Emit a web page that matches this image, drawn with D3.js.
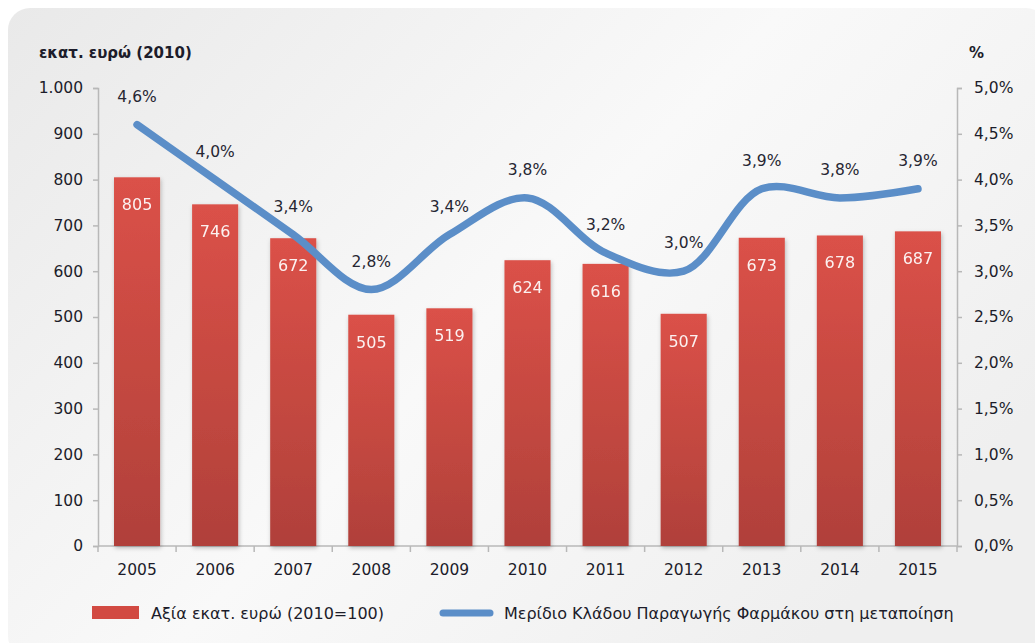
<!DOCTYPE html>
<html>
<head>
<meta charset="utf-8">
<script src="https://cdn.jsdelivr.net/npm/d3@7"></script>
<style>
  html, body { margin: 0; padding: 0; background: #ffffff; }
  svg { display: block; }
  text { font-family: "DejaVu Sans", sans-serif; }
</style>
</head>
<body>
<svg id="chart" width="1035" height="643"></svg>
<script>
const years = ["2005","2006","2007","2008","2009","2010","2011","2012","2013","2014","2015"];
const values = [805, 746, 672, 505, 519, 624, 616, 507, 673, 678, 687];
const shares = [4.6, 4.0, 3.4, 2.8, 3.4, 3.8, 3.2, 3.0, 3.9, 3.8, 3.9];
const leftTicks = [0, 100, 200, 300, 400, 500, 600, 700, 800, 900, 1000];
const rightTicks = [0, 0.5, 1.0, 1.5, 2.0, 2.5, 3.0, 3.5, 4.0, 4.5, 5.0];
const leftTitle = "εκατ. ευρώ (2010)";
const rightTitle = "%";
const barLegend = "Αξία εκατ. ευρώ (2010=100)";
const lineLegend = "Μερίδιο Κλάδου Παραγωγής Φαρμάκου στη μεταποίηση";

const svg = d3.select("#chart");
const defs = svg.append("defs");

const bg = defs.append("linearGradient").attr("id","bg").attr("x1","0").attr("y1","0").attr("x2","1").attr("y2","0.6");
bg.append("stop").attr("offset","0").attr("stop-color","#e9e9e9");
bg.append("stop").attr("offset","0.55").attr("stop-color","#f9f9f9");
bg.append("stop").attr("offset","1").attr("stop-color","#efefef");

const barGrad = defs.append("linearGradient").attr("id","barGrad").attr("x1","0").attr("y1","0").attr("x2","0").attr("y2","1");
barGrad.append("stop").attr("offset","0").attr("stop-color","#db5148");
barGrad.append("stop").attr("offset","1").attr("stop-color","#b0403a");

const shadow = defs.append("filter").attr("id","shadow").attr("x","-20%").attr("y","-5%").attr("width","140%").attr("height","115%");
shadow.append("feDropShadow").attr("dx",1).attr("dy",2).attr("stdDeviation",2).attr("flood-color","#000").attr("flood-opacity",0.25);

svg.append("rect").attr("x",8).attr("y",8).attr("width",1040).attr("height",650)
  .attr("rx",22).attr("fill","url(#bg)");

const pLeft = 98, pRight = 957, pTop = 88, pBottom = 546;

const x = d3.scaleBand().domain(years).range([pLeft, pRight]).paddingInner(0.41).paddingOuter(0.205);
const y = d3.scaleLinear().domain([0, 1000]).range([pBottom, pTop]);
const y2 = d3.scaleLinear().domain([0, 5]).range([pBottom, pTop]);

const fmtLeft = d => d === 1000 ? "1.000" : String(d);
const fmtRight = d => d.toFixed(1).replace(".", ",") + "%";

const axisColor = "#b8b8b8";
const gL = svg.append("g").attr("transform",`translate(${pLeft},0)`)
  .call(d3.axisLeft(y).tickValues(leftTicks).tickFormat(fmtLeft).tickSize(5).tickPadding(10));
const gR = svg.append("g").attr("transform",`translate(${pRight},0)`)
  .call(d3.axisRight(y2).tickValues(rightTicks).tickFormat(fmtRight).tickSize(5).tickPadding(12));
[gL, gR].forEach(g => {
  g.select(".domain").attr("stroke",axisColor).attr("stroke-width",1.5);
  g.selectAll(".tick line").attr("stroke",axisColor).attr("stroke-width",1.5);
  g.selectAll(".tick text").attr("fill","#1c1c2a").attr("font-size",15.5).style("font-family","DejaVu Sans, sans-serif");
});

const gX = svg.append("g").attr("transform",`translate(0,${pBottom})`);
gX.append("line").attr("x1",pLeft).attr("x2",pRight).attr("stroke",axisColor).attr("stroke-width",1.5);
const step = x.step();
const bounds = d3.range(years.length + 1).map(i => pLeft + i * step);
gX.selectAll(".xt").data(bounds).join("line").attr("class","xt")
  .attr("x1",d=>d).attr("x2",d=>d).attr("y1",0).attr("y2",6)
  .attr("stroke",axisColor).attr("stroke-width",1.5);
gX.selectAll(".xl").data(years).join("text").attr("class","xl")
  .attr("x",d=>x(d)+x.bandwidth()/2).attr("y",29)
  .attr("text-anchor","middle").attr("font-size",15.5).attr("fill","#1c1c2a").text(d=>d);

svg.append("g").selectAll("rect").data(years).join("rect")
  .attr("x",d=>x(d)).attr("width",x.bandwidth())
  .attr("y",(d,i)=>y(values[i])).attr("height",(d,i)=>pBottom - y(values[i]))
  .attr("fill","url(#barGrad)").attr("filter","url(#shadow)");

svg.append("g").selectAll("text").data(years).join("text")
  .attr("x",d=>x(d)+x.bandwidth()/2).attr("y",(d,i)=>y(values[i])+33)
  .attr("text-anchor","middle").attr("font-size",16).attr("fill","#ffffff")
  .attr("opacity",0.92).text((d,i)=>values[i]);

const line = d3.line()
  .x((d,i)=>x(years[i])+x.bandwidth()/2)
  .y(d=>y2(d))
  .curve(d3.curveCatmullRom.alpha(0.5));
svg.append("path").datum(shares).attr("d",line)
  .attr("fill","none").attr("stroke","#5b8ec8").attr("stroke-width",7.5)
  .attr("stroke-linecap","round").attr("stroke-linejoin","round");

svg.append("g").selectAll("text").data(shares).join("text")
  .attr("x",(d,i)=>x(years[i])+x.bandwidth()/2)
  .attr("y",d=>y2(d)-23)
  .attr("text-anchor","middle").attr("font-size",15.5).attr("fill","#262632")
  .text(d=>d.toFixed(1).replace(".", ",") + "%");

svg.append("text").attr("x",39).attr("y",58).attr("font-size",15).attr("font-weight","bold")
  .attr("fill","#1c1c2a").text(leftTitle);
svg.append("text").attr("x",969).attr("y",58).attr("font-size",15).attr("font-weight","bold")
  .attr("fill","#1c1c2a").text(rightTitle);

svg.append("rect").attr("x",92).attr("y",606).attr("width",47).attr("height",13).attr("fill","#d24a42");
svg.append("text").attr("x",151).attr("y",619).attr("font-size",16).attr("fill","#1c1c2a").text(barLegend);
svg.append("line").attr("x1",443).attr("x2",490).attr("y1",613).attr("y2",613)
  .attr("stroke","#5b8ec8").attr("stroke-width",7).attr("stroke-linecap","round");
svg.append("text").attr("x",504).attr("y",619).attr("font-size",16).attr("fill","#1c1c2a").text(lineLegend);
</script>
</body>
</html>
